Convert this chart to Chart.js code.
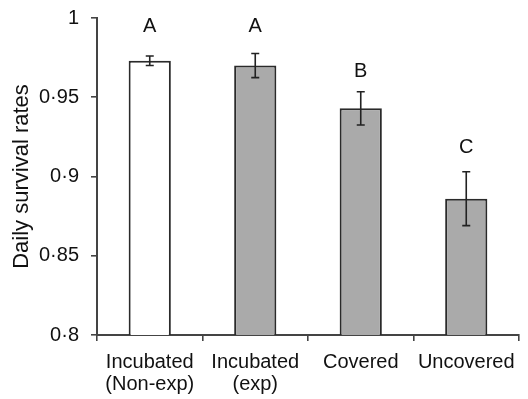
<!DOCTYPE html>
<html>
<head>
<meta charset="utf-8">
<script src="https://cdn.jsdelivr.net/npm/chart.js@4"></script>
<style>
html,body{margin:0;padding:0;background:#fff;}
#wrap{width:528px;height:399px;position:relative;}
</style>
</head>
<body>
<div id="wrap"><canvas id="c" width="528" height="399"></canvas></div>
<script>
const categories = [["Incubated","(Non-exp)"],["Incubated","(exp)"],["Covered"],["Uncovered"]];
const survival = [0.973, 0.970, 0.943, 0.886];
const errors = [0.003, 0.0076, 0.0105, 0.017];
const groupLetters = ["A","A","B","C"];
const letterLevels = [0.9945, 0.9945, 0.966, 0.918];
const yTicks = [0.8, 0.85, 0.9, 0.95, 1];
const yTickLabels = ["0·8","0·85","0·9","0·95","1"];
const barColors = ["#ffffff","#aaaaaa","#aaaaaa","#aaaaaa"];

const FONT = "'Liberation Sans', Arial, sans-serif";

const errPlugin = {
  id: 'errbars',
  afterDatasetsDraw(chart) {
    const ctx = chart.ctx;
    const meta = chart.getDatasetMeta(0);
    const y = chart.scales.y;
    ctx.save();
    ctx.strokeStyle = '#222';
    ctx.lineWidth = 1.6;
    meta.data.forEach((bar, i) => {
      const x = bar.x;
      const yt = y.getPixelForValue(survival[i] + errors[i]);
      const yb = y.getPixelForValue(survival[i] - errors[i]);
      ctx.beginPath();
      ctx.moveTo(x, yt); ctx.lineTo(x, yb);
      ctx.moveTo(x - 4, yt); ctx.lineTo(x + 4, yt);
      ctx.moveTo(x - 4, yb); ctx.lineTo(x + 4, yb);
      ctx.stroke();
      ctx.fillStyle = '#111';
      ctx.font = "20px " + FONT;
      ctx.textAlign = 'center';
      ctx.textBaseline = 'middle';
      ctx.fillText(groupLetters[i], x, y.getPixelForValue(letterLevels[i]));
    });
    ctx.restore();
  }
};

new Chart(document.getElementById('c'), {
  type: 'bar',
  data: {
    labels: categories,
    datasets: [{
      data: survival,
      backgroundColor: barColors,
      borderColor: '#2a2a2a',
      borderWidth: 2,
      borderSkipped: 'bottom',
      barPercentage: 0.4,
      categoryPercentage: 1.0
    }]
  },
  options: {
    responsive: false,
    animation: false,
    devicePixelRatio: 1,
    layout: { padding: { top: 18, right: 9, left: 0, bottom: 0 } },
    plugins: { legend: { display: false }, tooltip: { enabled: false } },
    scales: {
      x: {
        offset: true,
        grid: { offset: true, drawOnChartArea: false, tickLength: 6, color: '#444', lineWidth: 1.6 },
        border: { color: '#444', width: 2 },
        ticks: { color: '#111', font: { family: FONT, size: 20, lineHeight: 1.1 }, padding: 10, maxRotation: 0, autoSkip: false },
        afterFit(s) { s.height = 64; }
      },
      y: {
        min: 0.8, max: 1,
        afterBuildTicks(s) { s.ticks = yTicks.map(v => ({ value: v })); },
        grid: { drawOnChartArea: false, tickLength: 6, color: '#444', lineWidth: 1.6 },
        border: { color: '#444', width: 2 },
        ticks: {
          color: '#111', font: { family: FONT, size: 20 }, padding: 12,
          callback(v) { const i = yTicks.findIndex(t => Math.abs(t - v) < 1e-9); return i >= 0 ? yTickLabels[i] : ''; }
        },
        title: { display: true, text: 'Daily survival rates', color: '#111', font: { family: FONT, size: 22 }, padding: { top: 9, bottom: 0 } },
        afterFit(s) { s.width = 97; s.paddingTop = 0; s.paddingBottom = 0; }
      }
    }
  },
  plugins: [errPlugin]
});
</script>
</body>
</html>
